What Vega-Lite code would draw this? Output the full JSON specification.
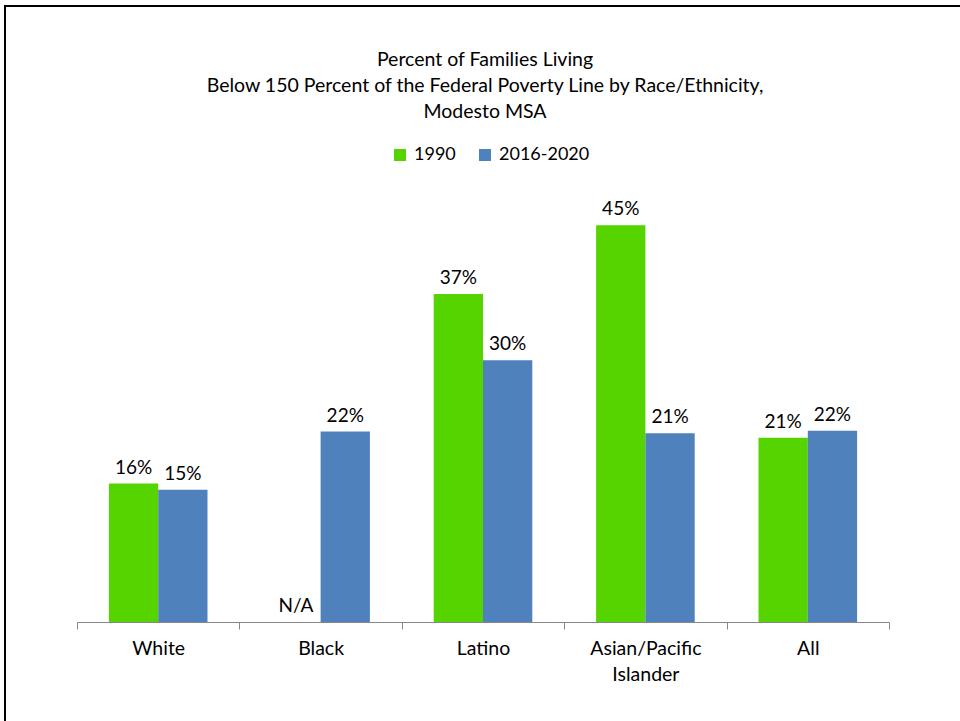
{
  "$schema": "https://vega.github.io/schema/vega-lite/v6.json",
  "width": 960,
  "height": 730,
  "autosize": "none",
  "padding": {"left": 5, "top": 6, "right": 0, "bottom": 0},
  "background": "white",
  "config": {
    "view": {"stroke": "#000000", "strokeWidth": 2},
    "font": "Lato"
  },
  "title": {
    "text": ["Percent of Families Living", "Below 150 Percent of the Federal Poverty Line by Race/Ethnicity,", "Modesto MSA"],
    "fontSize": 19.5,
    "fontWeight": "normal",
    "lineHeight": 26,
    "anchor": "middle",
    "frame": "group",
    "offset": -116,
    "color": "#000000"
  },
  "datasets": {
    "bars": [
      {"category": "White", "period": "1990", "value": 0.157},
      {"category": "White", "period": "2016-2020", "value": 0.150},
      {"category": "Black", "period": "1990", "value": null},
      {"category": "Black", "period": "2016-2020", "value": 0.216},
      {"category": "Latino", "period": "1990", "value": 0.372},
      {"category": "Latino", "period": "2016-2020", "value": 0.297},
      {"category": "Asian/Pacific Islander", "period": "1990", "value": 0.450},
      {"category": "Asian/Pacific Islander", "period": "2016-2020", "value": 0.214},
      {"category": "All", "period": "1990", "value": 0.209},
      {"category": "All", "period": "2016-2020", "value": 0.217}
    ],
    "na": [
      {"category": "Black", "period": "1990", "label": "N/A", "value": 0}
    ]
  },
  "encoding": {
    "x": {
      "field": "category",
      "type": "nominal",
      "sort": ["White", "Black", "Latino", "Asian/Pacific Islander", "All"],
      "scale": {"range": [72, 884], "paddingInner": 0, "paddingOuter": 0},
      "axis": {
        "title": null,
        "orient": "bottom",
        "offset": -114,
        "labelAngle": 0,
        "tickBand": "extent",
        "tickSize": 7,
        "tickColor": "#868686",
        "domainColor": "#868686",
        "labelFontSize": 19.5,
        "labelColor": "#000000",
        "labelPadding": 10,
        "labelLineHeight": 26,
        "labelExpr": "datum.label == 'Asian/Pacific Islander' ? ['Asian/Pacific', 'Islander'] : datum.label"
      }
    },
    "xOffset": {
      "field": "period",
      "type": "nominal",
      "sort": ["1990", "2016-2020"],
      "scale": {"paddingInner": 0, "paddingOuter": 0.647}
    }
  },
  "layer": [
    {
      "data": {"name": "bars"},
      "mark": {"type": "bar"},
      "encoding": {
        "y": {
          "field": "value",
          "type": "quantitative",
          "scale": {"domain": [0, 0.5], "range": [616, 175.2], "nice": false, "zero": true},
          "axis": null
        },
        "color": {
          "field": "period",
          "type": "nominal",
          "scale": {"domain": ["1990", "2016-2020"], "range": ["#55D400", "#4F81BD"]},
          "legend": {
            "title": null,
            "orient": "none",
            "legendX": 386,
            "legendY": 140,
            "direction": "horizontal",
            "symbolType": "square",
            "symbolSize": 144,
            "symbolStrokeWidth": 0,
            "labelFontSize": 18,
            "labelColor": "#000000",
            "labelOffset": 5,
            "columnPadding": 20,
            "padding": 0
          }
        }
      }
    },
    {
      "data": {"name": "bars"},
      "mark": {"type": "text", "baseline": "bottom", "dy": -6, "fontSize": 19, "color": "#000000"},
      "encoding": {
        "y": {"field": "value", "type": "quantitative"},
        "text": {"field": "value", "type": "quantitative", "format": ".0%"}
      }
    },
    {
      "data": {"name": "na"},
      "mark": {"type": "text", "baseline": "bottom", "dy": -6, "fontSize": 19, "color": "#000000"},
      "encoding": {
        "y": {"field": "value", "type": "quantitative"},
        "text": {"field": "label", "type": "nominal"}
      }
    }
  ]
}
